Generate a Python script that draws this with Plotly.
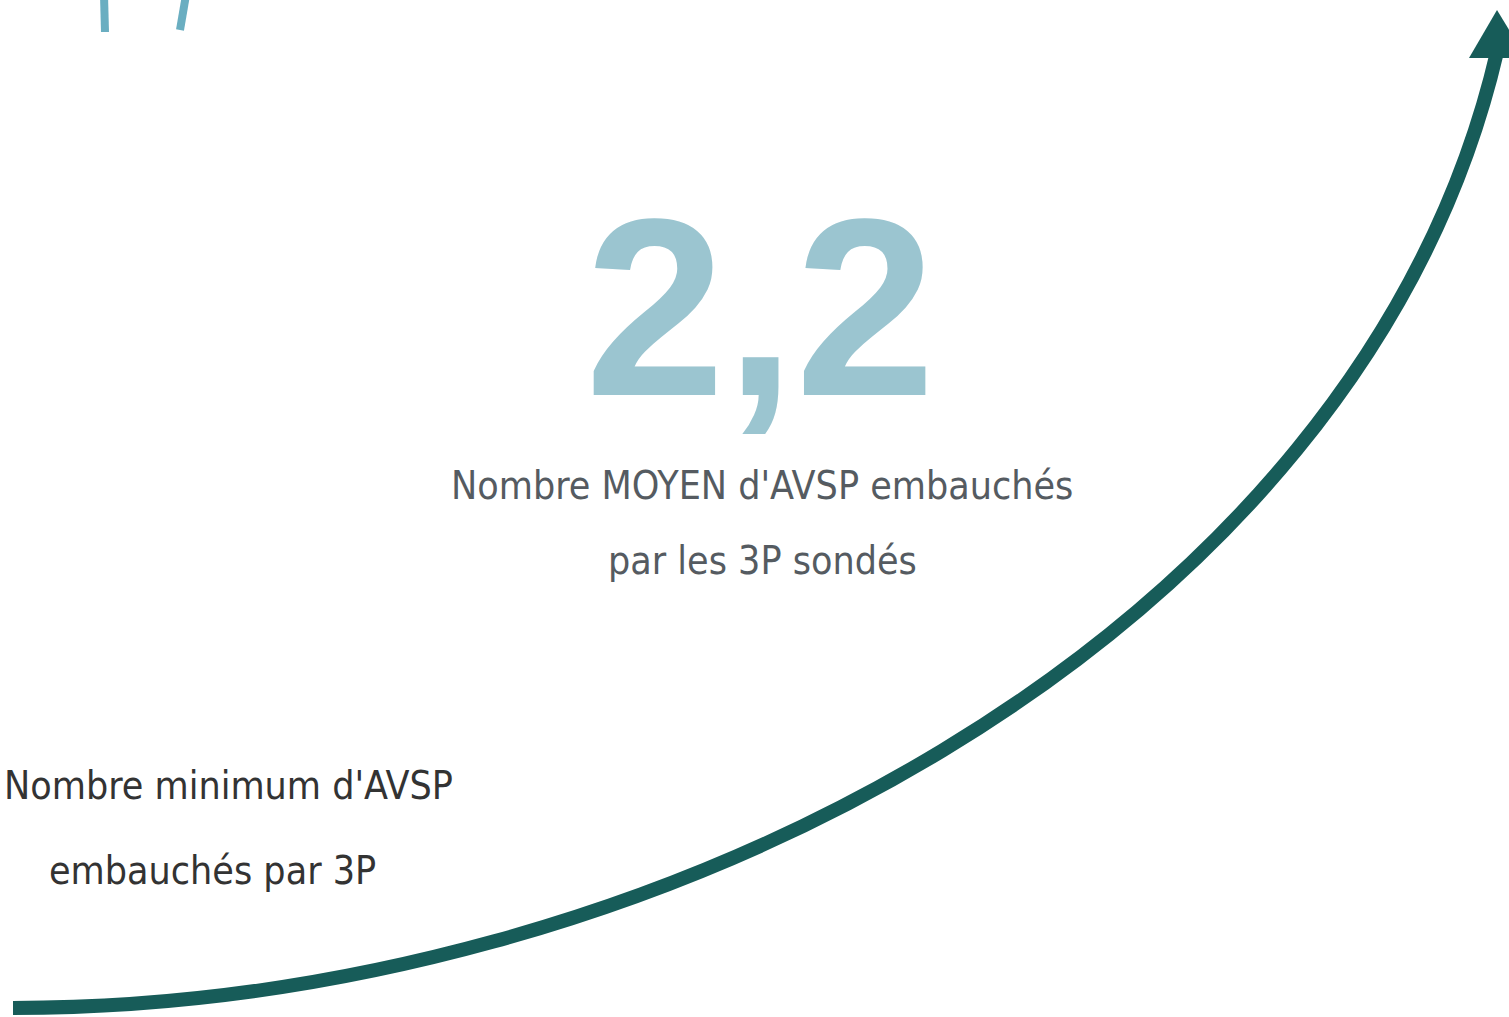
import plotly.graph_objects as go

# ---- data ----
mean_value = [2.2]
mean_label = ["Nombre MOYEN d'AVSP embauchés", "par les 3P sondés"]
min_label = ["Nombre minimum d'AVSP", "embauchés par 3P"]

W, H = 1509, 1017
TEAL = "#175c59"
LIGHT = "#9bc5d0"
MARK = "#6aaec1"
HAND = "DejaVu Sans Condensed, Liberation Sans Narrow, Arial Narrow, sans-serif"

fig = go.Figure()

shapes = [
    # growth curve
    dict(type="path", xref="x", yref="y",
         path="M 13 1008 C 650 1008, 1360 640, 1497 52",
         line=dict(color=TEAL, width=14)),
    # arrow head
    dict(type="path", xref="x", yref="y",
         path="M 1497 10 L 1469 58 L 1526 58 Z",
         fillcolor=TEAL, line=dict(color=TEAL, width=0)),
    # decorative marks top-left
    dict(type="line", xref="x", yref="y", x0=104, y0=-5, x1=105, y1=32,
         line=dict(color=MARK, width=8)),
    dict(type="line", xref="x", yref="y", x0=186, y0=-5, x1=180, y1=30,
         line=dict(color=MARK, width=8)),
]

annotations = [
    dict(x=760, y=307, xref="x", yref="y", showarrow=False,
         text=f"{mean_value[0]:.1f}".replace(".", ","),
         font=dict(family="Liberation Sans, Arial, sans-serif", size=252,
                   color=LIGHT, weight="bold"),
         xanchor="center", yanchor="middle"),
    dict(x=762, y=485, xref="x", yref="y", showarrow=False, text=mean_label[0],
         font=dict(family=HAND, size=39, color="#555b61"), xanchor="center", yanchor="middle"),
    dict(x=762, y=560, xref="x", yref="y", showarrow=False, text=mean_label[1],
         font=dict(family=HAND, size=39, color="#555b61"), xanchor="center", yanchor="middle"),
    dict(x=2, y=785, xref="x", yref="y", showarrow=False, text=min_label[0],
         font=dict(family=HAND, size=39, color="#333333"), xanchor="left", yanchor="middle"),
    dict(x=212, y=870, xref="x", yref="y", showarrow=False, text=min_label[1],
         font=dict(family=HAND, size=39, color="#333333"), xanchor="center", yanchor="middle"),
]

fig.update_layout(
    width=W, height=H,
    margin=dict(l=0, r=0, t=0, b=0),
    paper_bgcolor="white", plot_bgcolor="white",
    xaxis=dict(range=[0, W], visible=False, fixedrange=True),
    yaxis=dict(range=[H, 0], visible=False, fixedrange=True),
    shapes=shapes, annotations=annotations, showlegend=False,
)

fig.write_html("out.html", config={"displayModeBar": False},
               post_script="document.body.style.margin='0';document.body.style.overflow='hidden';")
